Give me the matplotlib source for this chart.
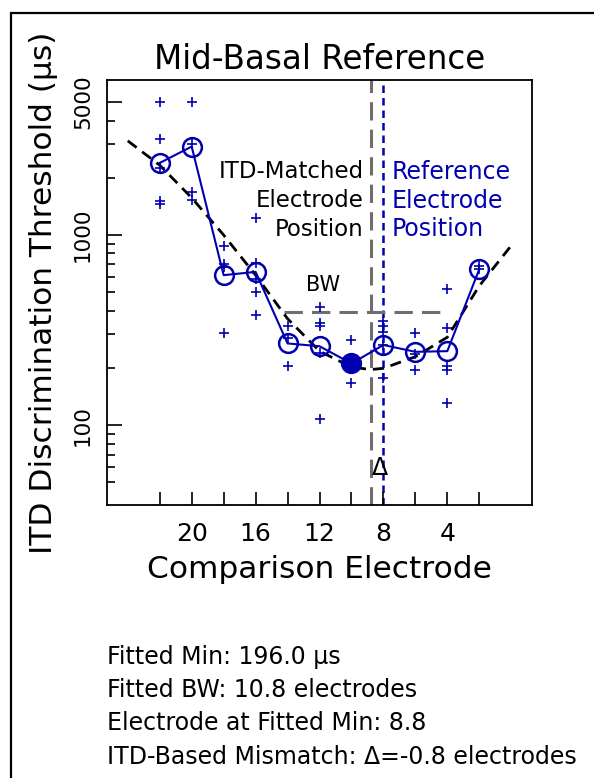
import matplotlib
matplotlib.use("Agg")
import matplotlib.pyplot as plt
from matplotlib.patches import Rectangle
from matplotlib.ticker import NullFormatter

plt.rcParams['font.family'] = ['DejaVu Sans']

# comparison electrodes and mean ITD thresholds (us)
electrodes = [22, 20, 18, 16, 14, 12, 10, 8, 6, 4, 2]
mean_thr = [2395, 2920, 615, 640, 269, 260, 211, 264, 243, 245, 661]
min_electrode = 10  # filled marker

# individual threshold estimates per electrode
runs = {
    22: [5030, 3190, 2250, 1515, 1456],
    20: [5030, 3015, 1690, 1528],
    18: [878, 701, 680, 306],
    16: [1233, 710, 585, 502, 379],
    14: [332, 286, 205],
    12: [416, 345, 332, 240, 108],
    10: [280, 211, 166],
    8: [355, 332, 310, 264, 176],
    6: [306, 236, 195],
    4: [520, 323, 204, 196, 130],
    2: [687, 661],
}

# fitted curve
fit_e = [24.0, 22, 20, 18, 16, 14, 12, 10, 8.8, 8, 6, 4, 2, 0]
fit_t = [3130, 2330, 1570, 1000, 615, 363, 245, 202, 196, 199, 229, 290, 540, 880]

fit_min = 196.0
fit_bw = 10.8
fit_pos = 8.8
ref_pos = 8
bw_ends = [14.25, 4.3]  # drawn extent of the BW marker

blue = '#0000b0'
grey = '#6e6e6e'

fig = plt.figure(figsize=(5.94, 7.78), dpi=100)
ax = fig.add_axes([107 / 594, 1 - 505 / 778, 425 / 594, 425 / 778])

# reference lines
ax.axvline(fit_pos, color=grey, lw=2.2, dashes=(6, 3), zorder=1)
ax.axvline(ref_pos, color=blue, lw=1.8, dashes=(3, 2), zorder=1)
ax.plot(bw_ends, [2 * fit_min] * 2, color=grey, lw=2.2, dashes=(6, 3), zorder=1)

# individual runs
for e, vals in runs.items():
    ax.plot([e] * len(vals), vals, '+', color=blue, ms=6.5, mew=1.2, zorder=3)

# means
ax.plot(electrodes, mean_thr, '-o', color=blue, lw=1.5, ms=13.5,
        mfc='none', mec=blue, mew=1.8, zorder=4)
i = electrodes.index(min_electrode)
ax.plot(electrodes[i], mean_thr[i], 'o', color=blue, ms=13.5, zorder=5)

# fit
ax.plot(fit_e, fit_t, color='black', lw=2, dashes=(4, 2.5), zorder=2)

ax.set_yscale('log')
ax.set_xlim(25.3, -1.3)
ax.set_ylim(38, 6540)

ax.set_xticks([20, 16, 12, 8, 4])
ax.set_xticks([22, 18, 14, 10, 6, 2], minor=True)
ax.set_yticks([100, 1000, 5000])
ax.set_yticklabels(['100', '1000', '5000'])
ax.set_yticks([50, 60, 70, 80, 90, 200, 300, 400, 500, 600, 700, 800, 900,
               2000, 3000, 4000], minor=True)
ax.yaxis.set_minor_formatter(NullFormatter())
ax.tick_params(axis='x', which='both', direction='in', length=9.5, width=1.2,
               labelsize=18, pad=12)
ax.tick_params(axis='y', which='major', direction='in', length=11, width=1.2,
               labelsize=15.5, pad=10, labelrotation=90)
ax.tick_params(axis='y', which='minor', direction='in', length=6, width=1.2)
for lab in ax.get_yticklabels():
    lab.set_va('center')
for s in ax.spines.values():
    s.set_linewidth(1.3)

ax.set_xlabel('Comparison Electrode', fontsize=22.5, labelpad=7)
ax.set_ylabel('ITD Discrimination Threshold (\u03bcs)', fontsize=22.5, labelpad=11)
ax.set_title('Mid-Basal Reference', fontsize=23.5, pad=8)

for txt, yv in zip(['ITD-Matched', 'Electrode', 'Position'], [2146, 1511, 1075]):
    ax.text(9.25, yv, txt, ha='right', va='center', fontsize=16.5)
for txt, yv in zip(['Reference', 'Electrode', 'Position'], [2146, 1511, 1075]):
    ax.text(7.5, yv, txt, ha='left', va='center', fontsize=17, color=blue)
ax.text(11.8, 546, 'BW', ha='center', va='center', fontsize=15)
ax.text(8.25, 59.4, '\u0394', ha='center', va='center', fontsize=17)

# summary text
lines = ['Fitted Min: %.1f \u03bcs' % fit_min,
         'Fitted BW: %.1f electrodes' % fit_bw,
         'Electrode at Fitted Min: %.1f' % fit_pos,
         'ITD-Based Mismatch: \u0394=%.1f electrodes' % (ref_pos - fit_pos)]
for txt, yp in zip(lines, [657, 690, 723, 757]):
    fig.text(107 / 594, 1 - yp / 778, txt, ha='left', va='center', fontsize=17)

# outer frame
fig.patches.append(Rectangle((11 / 594, -0.1), 1.2, 1.1 - 13 / 778,
                             transform=fig.transFigure, fill=False,
                             lw=1.6, edgecolor='black'))

fig.savefig('out.png', dpi=100)
